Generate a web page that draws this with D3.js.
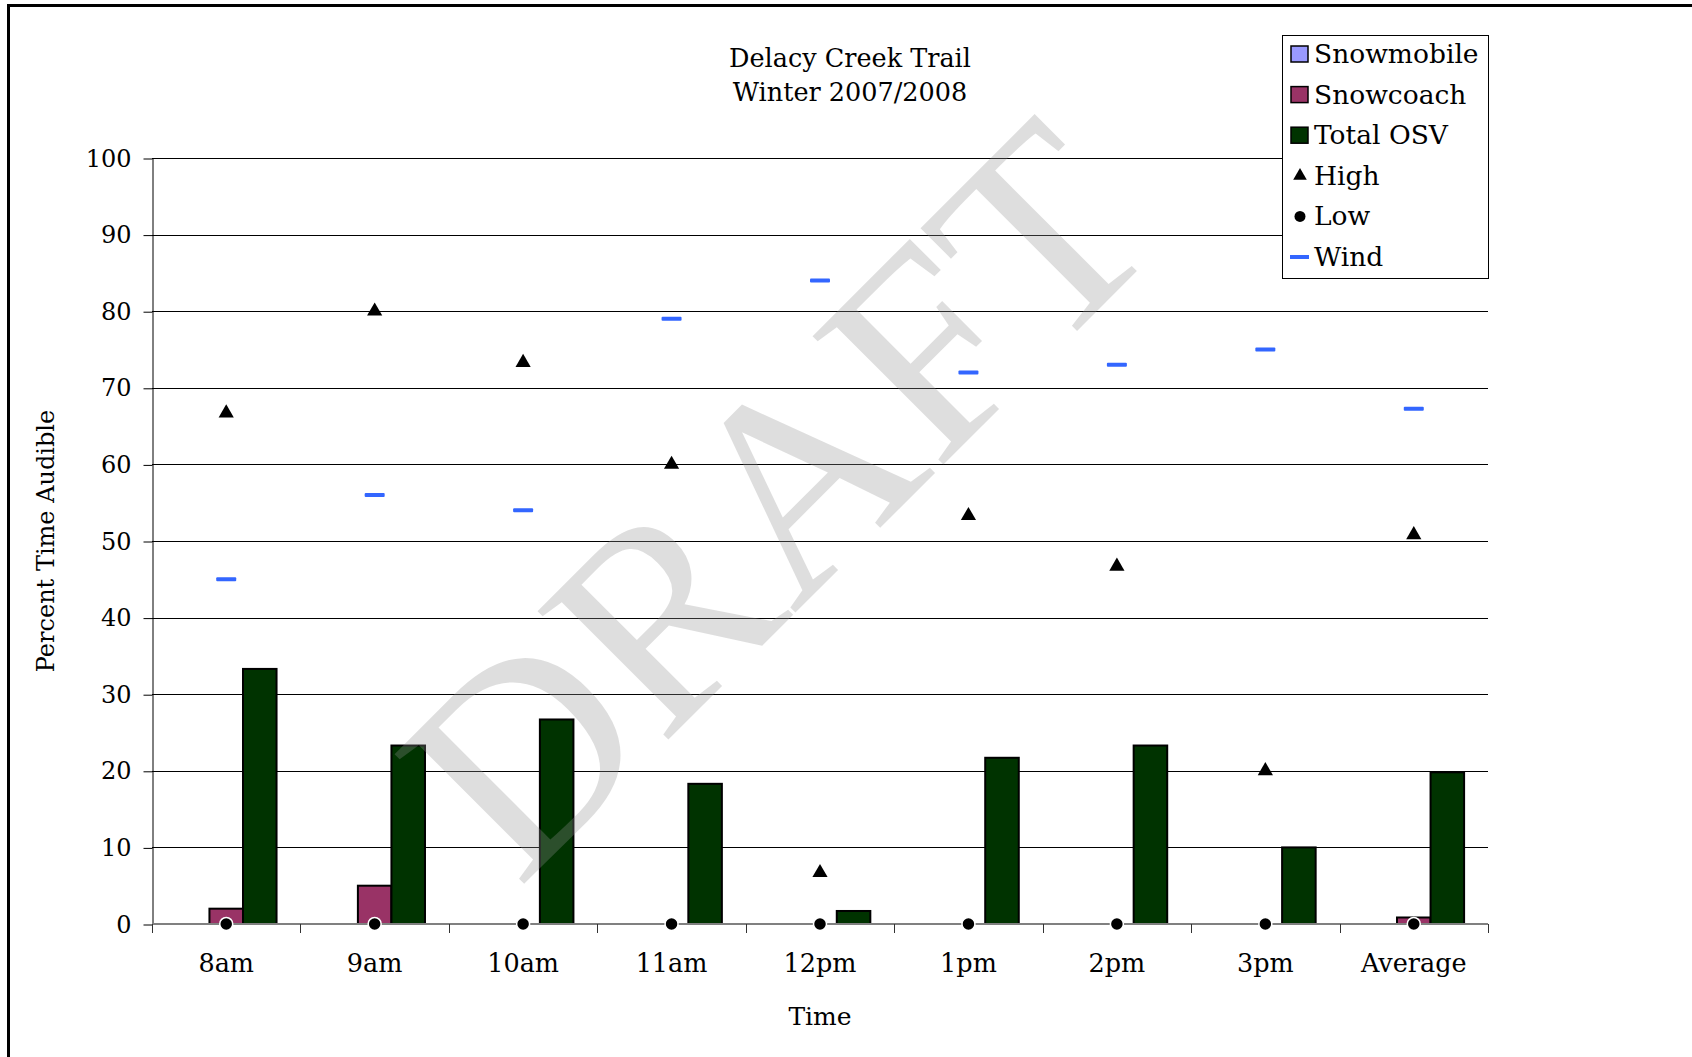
<!DOCTYPE html>
<html>
<head>
<meta charset="utf-8">
<script src="https://cdn.jsdelivr.net/npm/d3@7"></script>
<style>
  html, body { margin: 0; padding: 0; background: #fff; }
  svg { display: block; }
  text { font-family: "DejaVu Serif", serif; }
</style>
</head>
<body>
<svg id="chart" width="1692" height="1057"></svg>
<script>
// ---- data ----
const categories = ["8am", "9am", "10am", "11am", "12pm", "1pm", "2pm", "3pm", "Average"];
const snowmobile = [0, 0, 0, 0, 0, 0, 0, 0, 0];
const snowcoach  = [2, 5, 0, 0, 0, 0, 0, 0, 0.85];
const totalOSV   = [33.3, 23.3, 26.7, 18.3, 1.7, 21.7, 23.3, 10, 19.8];
const high       = [66.7, 80, 73.3, 60, 6.7, 53.3, 46.7, 20, 50.8];
const low        = [0, 0, 0, 0, 0, 0, 0, 0, 0];
const wind       = [45, 56, 54, 79, 84, 72, 73, 75, 67.25];
const yTicks     = [0, 10, 20, 30, 40, 50, 60, 70, 80, 90, 100];
const barSeries  = ["Snowmobile", "Snowcoach", "Total OSV"];
const legendItems = ["Snowmobile", "Snowcoach", "Total OSV", "High", "Low", "Wind"];
const titleLines = ["Delacy Creek Trail", "Winter 2007/2008"];

// ---- layout ----
const svg = d3.select("#chart");
const plot = { left: 152, right: 1488, top: 158, bottom: 924 };
const colors = { "Snowmobile": "#9999ff", "Snowcoach": "#993366", "Total OSV": "#003300" };
const windColor = "#3366ff";

svg.append("rect").attr("width", 1692).attr("height", 1057).attr("fill", "#fff");
// outer frame (extends beyond right/bottom edges)
svg.append("rect").attr("x", 8.5).attr("y", 5.5).attr("width", 3000).attr("height", 3000)
  .attr("fill", "none").attr("stroke", "#000").attr("stroke-width", 3);

const x0 = d3.scaleBand().domain(categories).range([plot.left, plot.right]).padding(0);
const bw = x0.bandwidth();
const groupW = bw * 0.678;
const x1 = d3.scaleBand().domain(barSeries).range([(bw - groupW) / 2, (bw + groupW) / 2]).padding(0);
const y = d3.scaleLinear().domain([0, 100]).range([plot.bottom, plot.top]);

// gridlines
svg.append("g").selectAll("line").data(yTicks.filter(t => t > 0)).join("line")
  .attr("x1", plot.left).attr("x2", plot.right)
  .attr("y1", d => Math.round(y(d)) + 0.5).attr("y2", d => Math.round(y(d)) + 0.5)
  .attr("stroke", "#000").attr("stroke-width", 1);

// y axis
const yAxis = svg.append("g").attr("transform", `translate(${plot.left + 0.5},0.5)`)
  .call(d3.axisLeft(y).tickValues(yTicks).tickFormat(d3.format("d")).tickSize(9).tickSizeOuter(0).tickPadding(12));
yAxis.select(".domain").attr("stroke", "#000");
yAxis.selectAll(".tick line").attr("stroke", "#000");
yAxis.selectAll(".tick text").style("font-family", "DejaVu Serif").style("font-size", "24px").style("fill", "#000");

// bars
const barData = [];
categories.forEach((c, i) => {
  [["Snowmobile", snowmobile[i]], ["Snowcoach", snowcoach[i]], ["Total OSV", totalOSV[i]]].forEach(([s, v]) => {
    if (v > 0) barData.push({ c, s, v });
  });
});
svg.append("g").selectAll("rect").data(barData).join("rect")
  .attr("x", d => x0(d.c) + x1(d.s))
  .attr("width", x1.bandwidth())
  .attr("y", d => y(d.v))
  .attr("height", d => y(0) - y(d.v))
  .attr("fill", d => colors[d.s])
  .attr("stroke", "#000").attr("stroke-width", 2);

// x axis baseline
svg.append("line").attr("x1", plot.left).attr("x2", plot.right)
  .attr("y1", plot.bottom).attr("y2", plot.bottom)
  .attr("stroke", "#808080").attr("stroke-width", 2);
// boundary ticks
const bounds = categories.map(c => x0(c)).concat([plot.right]);
svg.append("g").selectAll("line").data(bounds).join("line")
  .attr("x1", d => Math.round(d) + 0.5).attr("x2", d => Math.round(d) + 0.5)
  .attr("y1", plot.bottom).attr("y2", plot.bottom + 9)
  .attr("stroke", "#333").attr("stroke-width", 1);
// x labels via axis
const xAxis = svg.append("g").attr("transform", `translate(0,${plot.bottom})`)
  .call(d3.axisBottom(x0).tickSize(0).tickPadding(30));
xAxis.select(".domain").remove();
xAxis.selectAll(".tick text").style("font-family", "DejaVu Serif").style("font-size", "25.5px").style("fill", "#000");

// markers: wind
svg.append("g").selectAll("rect").data(categories.map((c, i) => ({ c, v: wind[i] }))).join("rect")
  .attr("x", d => x0(d.c) + bw / 2 - 10).attr("y", d => y(d.v) - 2)
  .attr("width", 20).attr("height", 4).attr("rx", 1)
  .attr("fill", windColor);
// high
const tri = d3.symbol().type(d3.symbolTriangle).size(100);
svg.append("g").selectAll("path").data(categories.map((c, i) => ({ c, v: high[i] }))).join("path")
  .attr("d", tri)
  .attr("transform", d => `translate(${x0(d.c) + bw / 2},${y(d.v)})`)
  .attr("fill", "#000");
// low
svg.append("g").selectAll("circle").data(categories.map((c, i) => ({ c, v: low[i] }))).join("circle")
  .attr("cx", d => x0(d.c) + bw / 2).attr("cy", d => y(d.v))
  .attr("r", 6.5).attr("fill", "#000").attr("stroke", "#fff").attr("stroke-width", 1.5);

// axis titles
svg.append("text").attr("x", (plot.left + plot.right) / 2).attr("y", 1025)
  .attr("text-anchor", "middle").style("font-size", "25px").style("fill", "#000").text("Time");
svg.append("text").attr("transform", "translate(54,541) rotate(-90)")
  .attr("text-anchor", "middle").style("font-size", "24px").style("fill", "#000").text("Percent Time Audible");

// title
svg.append("g").selectAll("text").data(titleLines).join("text")
  .attr("x", 850).attr("y", (d, i) => 67 + i * 34)
  .attr("text-anchor", "middle").style("font-size", "25.5px").style("fill", "#000").text(d => d);

// legend
const lg = svg.append("g");
lg.append("rect").attr("x", 1282.5).attr("y", 35.5).attr("width", 206).attr("height", 243)
  .attr("fill", "#fff").attr("stroke", "#000").attr("stroke-width", 1);
const rowY = i => 54 + i * 40.6;
legendItems.forEach((name, i) => {
  const cy = rowY(i);
  if (colors[name]) {
    lg.append("rect").attr("x", 1291).attr("y", cy - 8).attr("width", 17).attr("height", 16)
      .attr("fill", colors[name]).attr("stroke", "#000").attr("stroke-width", 1.5);
  } else if (name === "High") {
    lg.append("path").attr("d", d3.symbol().type(d3.symbolTriangle).size(80)())
      .attr("transform", `translate(1300,${cy})`).attr("fill", "#000");
  } else if (name === "Low") {
    lg.append("circle").attr("cx", 1300).attr("cy", cy).attr("r", 5.5).attr("fill", "#000");
  } else if (name === "Wind") {
    lg.append("rect").attr("x", 1290).attr("y", cy - 2).attr("width", 19).attr("height", 4).attr("fill", windColor);
  }
  lg.append("text").attr("x", 1314).attr("y", cy + 9).style("font-size", "26.5px").style("fill", "#000").text(name);
});

// DRAFT watermark
svg.append("text")
  .attr("transform", "translate(843,565) rotate(-45)")
  .attr("text-anchor", "middle")
  .style("font-family", "Liberation Serif").style("font-size", "280px")
  .style("fill", "rgb(145,145,145)").style("fill-opacity", 0.3)
  .text("DRAFT");
</script>
</body>
</html>
